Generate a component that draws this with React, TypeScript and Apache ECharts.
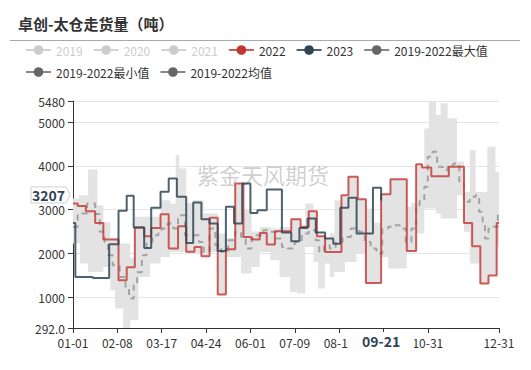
import React, { useEffect, useRef } from 'react';
import * as echarts from 'echarts';

const TITLE = '卓创-太仓走货量（吨）';
const WATERMARK = '紫金天风期货';
const SERIES_NAMES = ['2019', '2020', '2021', '2022', '2023', '2019-2022最大值', '2019-2022最小值', '2019-2022均值'];
const HIDDEN_YEARS = ['2019', '2020', '2021'];

// category axis: every day MM-DD of a leap year
const categories: string[] = (() => {
  const out: string[] = [];
  const d = new Date(Date.UTC(2020, 0, 1));
  while (d.getUTCFullYear() === 2020) {
    const m = String(d.getUTCMonth() + 1).padStart(2, '0');
    const day = String(d.getUTCDate()).padStart(2, '0');
    out.push(`${m}-${day}`);
    d.setUTCDate(d.getUTCDate() + 1);
  }
  return out;
})();

const Y_MIN = 292;
const Y_MAX = 5480;
const POINTER_DATE = '09-21';
const POINTER_VALUE = 3207;

// 2022 (day index of change, value)
const days2022 = [0, 4, 11, 19, 26, 39, 46, 53, 61, 67, 75, 82, 90, 97, 104, 110, 117, 124, 131, 139, 146, 153, 160, 166, 173, 187, 195, 202, 209, 216, 230, 236, 244, 251, 264, 272, 286, 294, 299, 307, 322, 335, 342, 349, 356, 363, 365];
const values2022 = [3138, 3083, 2962, 2694, 2314, 1383, 1681, 2589, 2390, 2580, 2893, 2109, 2619, 2032, 2145, 1932, 2809, 1056, 2093, 3596, 2374, 2314, 2466, 2200, 2504, 2779, 2603, 2962, 2390, 2031, 3328, 3747, 3237, 1322, 3351, 3694, 2054, 4037, 3962, 3763, 3976, 2694, 2161, 1308, 1491, 2694, 2694];

// 2023
const days2023 = [0, 2, 17, 31, 39, 46, 52, 61, 67, 75, 82, 89, 97, 103, 110, 117, 124, 131, 138, 145, 152, 158, 166, 179, 187, 194, 201, 208, 216, 223, 229, 236, 243, 257, 264];
const values2023 = [2694, 1459, 1436, 2207, 2969, 3312, 2589, 2122, 3038, 3404, 3710, 3290, 2237, 3161, 2779, 2681, 2054, 3061, 2681, 3596, 2923, 2985, 3458, 2474, 2275, 2580, 2795, 2474, 2337, 2220, 3038, 3267, 2452, 3495, 3207];

// 2019-2022 max / min band
const bandDays = [0, 5, 6, 13, 21, 26, 32, 36, 39, 43, 49, 53, 56, 66, 75, 83, 88, 91, 97, 103, 110, 112, 117, 124, 131, 139, 144, 146, 153, 160, 169, 177, 186, 187, 192, 195, 199, 206, 209, 210, 216, 220, 224, 230, 233, 236, 243, 244, 251, 258, 264, 270, 272, 286, 290, 294, 299, 301, 305, 311, 315, 321, 329, 335, 340, 345, 349, 355, 356, 362, 363, 365];
const bandMax = [3253, 3328, 3328, 3916, 3099, 2717, 2350, 2350, 2223, 2223, 1900, 2832, 2832, 2832, 3214, 3138, 4243, 3938, 3150, 3214, 3214, 2909, 2909, 2452, 2350, 3596, 3596, 2985, 2500, 2603, 2566, 2603, 2603, 2800, 2800, 2650, 3138, 2962, 2400, 2400, 2337, 2452, 3214, 3328, 3328, 3747, 3747, 3237, 3024, 2700, 3351, 3351, 3694, 3061, 3150, 4037, 3962, 4854, 5480, 5159, 5426, 5083, 4100, 3404, 4358, 3400, 3400, 4434, 4434, 3861, 3861, 3861];
const bandMin = [2223, 2223, 1765, 1573, 1573, 1688, 1155, 736, 736, 292, 468, 468, 1459, 1765, 1916, 2031, 2031, 2031, 2000, 2000, 1932, 1932, 2031, 1056, 1916, 1916, 1536, 1536, 1688, 2031, 1841, 1459, 1116, 1116, 1079, 1079, 2145, 1803, 1803, 1193, 1765, 1459, 1573, 1573, 1803, 1803, 1995, 1995, 1322, 1322, 1916, 1651, 1651, 2054, 2054, 2452, 2452, 3024, 3024, 2909, 2795, 2795, 3328, 2489, 1765, 1765, 1308, 1308, 1491, 1491, 2145, 2145];

// 2019-2022 mean
const meanDays = [0, 4, 12, 19, 23, 27, 30, 34, 40, 45, 48, 52, 55, 59, 63, 68, 73, 76, 81, 86, 90, 96, 108, 112, 117, 122, 127, 133, 139, 144, 148, 153, 157, 163, 169, 174, 179, 184, 190, 196, 202, 208, 211, 215, 220, 225, 231, 238, 245, 250, 255, 260, 265, 270, 275, 280, 285, 290, 294, 297, 301, 304, 308, 312, 317, 321, 326, 331, 335, 340, 345, 348, 351, 353, 356, 360, 364, 365];
const meanValues = [2603, 2909, 3138, 2900, 2489, 2260, 1955, 1727, 1459, 1230, 964, 1269, 1566, 1955, 2260, 2413, 2452, 2566, 2680, 2566, 2870, 2413, 2260, 2031, 2566, 2184, 2031, 2299, 2489, 2374, 2109, 2337, 2413, 2527, 2489, 2337, 2145, 2109, 2260, 2452, 2527, 2299, 2031, 2184, 2109, 2260, 2374, 2566, 2489, 2260, 2109, 1993, 2566, 2604, 2642, 2566, 2260, 2566, 3099, 3214, 3518, 4205, 4319, 3976, 3900, 4014, 4052, 3596, 3175, 3290, 3328, 2946, 2680, 2337, 2566, 2604, 2946, 2946];

const FONT = '"Noto Sans CJK SC", "Noto Sans", sans-serif';

const pairs = (days: number[], vals: number[]) => days.map((d, i) => [categories[d], vals[i]]);

const showLabel = (i: number) => (i % 38 === 0 && i <= 304) || i === categories.length - 1;

const lineBase = {
  type: 'line',
  step: 'end',
  symbol: 'circle',
  showSymbol: false,
  silent: true,
};

export default function App() {
  const ref = useRef<HTMLDivElement>(null);
  useEffect(() => {
    document.body.style.margin = '0';
    const chart = echarts.init(ref.current!, undefined, { renderer: 'svg' });
    const legendSelected: Record<string, boolean> = {};
    HIDDEN_YEARS.forEach((n) => (legendSelected[n] = false));
    chart.setOption({
      animation: false,
      textStyle: { fontFamily: FONT },
      title: {
        text: TITLE,
        left: 13,
        top: 11,
        textStyle: { fontSize: 15, fontWeight: 'bold', color: '#333', fontFamily: FONT },
      },
      legend: {
        left: 20,
        top: 39,
        itemGap: 10,
        itemWidth: 25,
        itemHeight: 12,
        inactiveColor: '#ccc',
        textStyle: { fontSize: 12, color: '#333', fontFamily: FONT },
        selected: legendSelected,
        data: SERIES_NAMES.map((n, i) =>
          i >= 5
            ? { name: n, itemStyle: { color: '#666', opacity: 1 }, lineStyle: { color: '#888', opacity: 1, width: 2, type: 'solid' } }
            : { name: n }
        ),
      },
      grid: { left: 73, right: 32, top: 101, bottom: 42 },
      xAxis: {
        type: 'category',
        data: categories,
        boundaryGap: false,
        axisLine: { lineStyle: { color: '#333' } },
        axisTick: { interval: (i: number) => showLabel(i), lineStyle: { color: '#333' } },
        axisLabel: { interval: (i: number) => showLabel(i), color: '#333', fontSize: 12, fontFamily: FONT },
        splitLine: { show: false },
      },
      yAxis: {
        type: 'value',
        min: Y_MIN,
        max: Y_MAX,
        splitNumber: 5,
        axisLine: { show: true, lineStyle: { color: '#333' } },
        axisTick: { show: true, lineStyle: { color: '#333' } },
        axisLabel: {
          color: '#333',
          fontSize: 12,
          fontFamily: FONT,
          showMinLabel: true,
          showMaxLabel: true,
          formatter: (v: number) => (v === Y_MIN ? v.toFixed(1) : String(v)),
        },
        splitLine: { lineStyle: { color: '#e4e4e4' } },
      },
      series: [
        { ...lineBase, name: '2019', data: [], color: '#aaa' },
        { ...lineBase, name: '2020', data: [], color: '#aaa' },
        { ...lineBase, name: '2021', data: [], color: '#aaa' },
        {
          ...lineBase,
          name: '2022',
          z: 4,
          color: '#c23531',
          lineStyle: { width: 2, color: '#c23531', opacity: 0.8 },
          data: pairs(days2022, values2022),
        },
        {
          ...lineBase,
          name: '2023',
          z: 5,
          color: '#2f4554',
          lineStyle: { width: 2, color: '#2f4554', opacity: 0.85 },
          data: pairs(days2023, values2023),
        },
        {
          ...lineBase,
          name: '2019-2022最小值',
          z: 1,
          stack: 'band',
          color: '#666',
          lineStyle: { width: 0, opacity: 0 },
          data: pairs(bandDays, bandMin),
        },
        {
          ...lineBase,
          name: '2019-2022最大值',
          z: 1,
          stack: 'band',
          color: '#666',
          lineStyle: { width: 0, opacity: 0 },
          areaStyle: { color: '#e3e3e3', opacity: 1 },
          data: bandDays.map((d, i) => [categories[d], bandMax[i] - bandMin[i]]),
        },
        {
          ...lineBase,
          name: '2019-2022均值',
          z: 3,
          color: '#666',
          lineStyle: { width: 2, color: '#a3a3a3', type: [6, 5] },
          data: pairs(meanDays, meanValues),
        },
      ],
    });
    const px = chart.convertToPixel({ xAxisIndex: 0 }, POINTER_DATE) as number;
    const py = (chart.convertToPixel({ yAxisIndex: 0 }, POINTER_VALUE) as number) - 5.5;
    chart.setOption({
      graphic: [
        { id: 'rule', type: 'line', shape: { x1: 10, y1: 40.5, x2: 520, y2: 40.5 }, style: { stroke: '#aaa', lineWidth: 1 } },
        {
          id: 'wm',
          type: 'text',
          left: 197,
          top: 163,
          z: 0,
          silent: true,
          style: { text: WATERMARK, fontSize: 22, fill: 'rgba(0,0,0,0.2)', fontFamily: FONT },
        },
        {
          id: 'ylabBox',
          type: 'polygon',
          z: 100,
          shape: { points: [[31, py - 8], [66, py - 8], [70, py], [66, py + 8], [31, py + 8]] },
          style: { fill: '#fff', stroke: '#d0d0d0', lineWidth: 1 },
        },
        {
          id: 'ylab',
          type: 'text',
          z: 101,
          x: 48.5,
          y: py,
          style: { text: String(POINTER_VALUE), fontSize: 14, fontWeight: 'bold', fill: '#2f4554', align: 'center', verticalAlign: 'middle', fontFamily: FONT },
        },
        {
          id: 'xlabBox',
          type: 'rect',
          z: 100,
          shape: { x: px - 33, y: 332, width: 66, height: 18 },
          style: { fill: '#fff' },
        },
        {
          id: 'xlab',
          type: 'text',
          z: 101,
          x: px,
          y: 341,
          style: { text: POINTER_DATE, fontSize: 14, fontWeight: 'bold', fill: '#2f4554', align: 'center', verticalAlign: 'middle', fontFamily: FONT },
        },
      ],
    });
    return () => chart.dispose();
  }, []);
  return <div ref={ref} style={{ width: 531, height: 370 }} />;
}
